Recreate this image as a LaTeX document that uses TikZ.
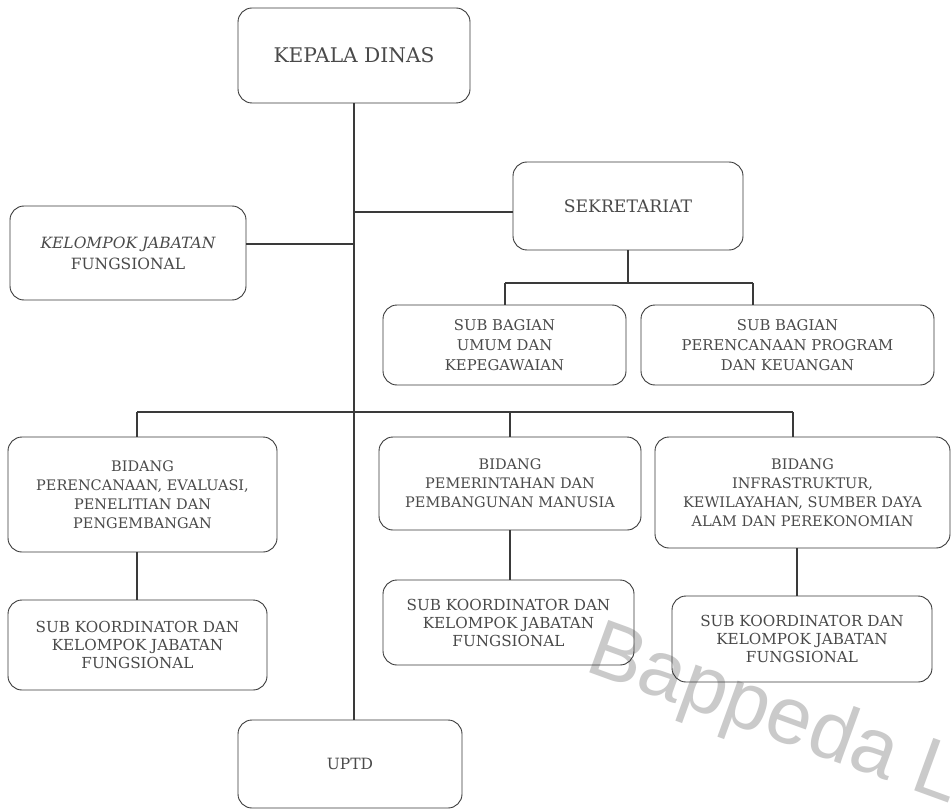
\documentclass[tikz,border=0pt]{standalone}
\usepackage{fontspec}
\setmainfont{DejaVu Serif}
\newfontfamily\wmfont{Liberation Sans}
\definecolor{ln}{HTML}{3A3A3A}
\definecolor{tx}{HTML}{4A4A4A}
\definecolor{wm}{HTML}{CACACA}
\begin{document}
\begin{tikzpicture}[x=1pt,y=-1pt,
  box/.style={draw=ln, line width=0.9pt, rounded corners=14pt, align=center, text=tx,
    font=\fontsize{14.5}{19}\selectfont, inner sep=0pt},
  subk/.style={box, font=\fontsize{15.2}{18}\selectfont},
  conn/.style={draw=ln, line width=1.1pt}]
\useasboundingbox (0,0) rectangle (952,810);
\fill[white] (0,0) rectangle (952,810);

% watermark (behind the chart)
\node[rotate=-20, text=wm, font=\wmfont\fontsize{81}{81}\selectfont, anchor=base west, inner sep=0pt] (wmk) at (583,670) {Bappeda L};

\node[box, minimum width=232pt, minimum height=95pt, font=\fontsize{20.2}{24}\selectfont] (kd) at (354,55.5) {KEPALA DINAS};
\node[box, minimum width=230pt, minimum height=88pt, font=\fontsize{17.2}{20}\selectfont] (sek) at (628,206) {SEKRETARIAT};
\node[box, minimum width=236pt, minimum height=94pt, font=\fontsize{15.5}{21}\selectfont] (kjf) at (128,253) {{\itshape KELOMPOK JABATAN}\\FUNGSIONAL};
\node[box, minimum width=243pt, minimum height=80pt, font=\fontsize{14.8}{20}\selectfont] (sbu) at (504.5,345) {SUB BAGIAN\\UMUM DAN\\KEPEGAWAIAN};
\node[box, minimum width=293pt, minimum height=80pt, font=\fontsize{14.8}{20}\selectfont] (sbp) at (787.5,345) {SUB BAGIAN\\PERENCANAAN PROGRAM\\DAN KEUANGAN};
\node[box, minimum width=269pt, minimum height=115pt] (b1) at (142.5,494.5) {BIDANG\\PERENCANAAN, EVALUASI,\\PENELITIAN DAN\\PENGEMBANGAN};
\node[box, minimum width=262pt, minimum height=93pt] (b2) at (510,483.5) {BIDANG\\PEMERINTAHAN DAN\\PEMBANGUNAN MANUSIA};
\node[box, minimum width=295pt, minimum height=111pt] (b3) at (802.5,492.5) {BIDANG\\INFRASTRUKTUR,\\KEWILAYAHAN, SUMBER DAYA\\ALAM DAN PEREKONOMIAN};
\node[subk, minimum width=259pt, minimum height=90pt] (s1) at (137.5,645) {SUB KOORDINATOR DAN\\KELOMPOK JABATAN\\FUNGSIONAL};
\node[subk, minimum width=251pt, minimum height=85pt] (s2) at (508.5,622.5) {SUB KOORDINATOR DAN\\KELOMPOK JABATAN\\FUNGSIONAL};
\node[subk, minimum width=260pt, minimum height=86pt] (s3) at (802,639) {SUB KOORDINATOR DAN\\KELOMPOK JABATAN\\FUNGSIONAL};
\node[box, minimum width=224pt, minimum height=88pt, font=\fontsize{15.5}{20}\selectfont] (up) at (350,764) {UPTD};

% trunk
\coordinate (tk) at (354,0);
\draw[conn] (kd.south -| tk) -- (up.north -| tk);
% to sekretariat
\coordinate (sy) at (0,212);
\draw[conn] (tk |- sy) -- (sek.west |- sy);
% to kelompok jabatan fungsional
\coordinate (ky) at (0,244);
\draw[conn] (kjf.east |- ky) -- (tk |- ky);
% sekretariat to sub bagian
\coordinate (sbar) at (628,283);
\coordinate (sl) at (505,283);
\coordinate (sr) at (753,283);
\draw[conn] (sek.south -| sbar) -- (sbar);
\draw[conn] (sl) -- (sr);
\draw[conn] (sl) -- (sl |- sbu.north);
\draw[conn] (sr) -- (sr |- sbp.north);
% bidang bar
\coordinate (bl) at (137,412);
\coordinate (bm) at (510,412);
\coordinate (br) at (793,412);
\draw[conn] (bl) -- (br);
\draw[conn] (bl) -- (bl |- b1.north);
\draw[conn] (bm) -- (bm |- b2.north);
\draw[conn] (br) -- (br |- b3.north);
% bidang to sub koordinator
\coordinate (x1) at (137,0);
\coordinate (x2) at (510,0);
\coordinate (x3) at (797,0);
\draw[conn] (b1.south -| x1) -- (s1.north -| x1);
\draw[conn] (b2.south -| x2) -- (s2.north -| x2);
\draw[conn] (b3.south -| x3) -- (s3.north -| x3);
\end{tikzpicture}
\end{document}
